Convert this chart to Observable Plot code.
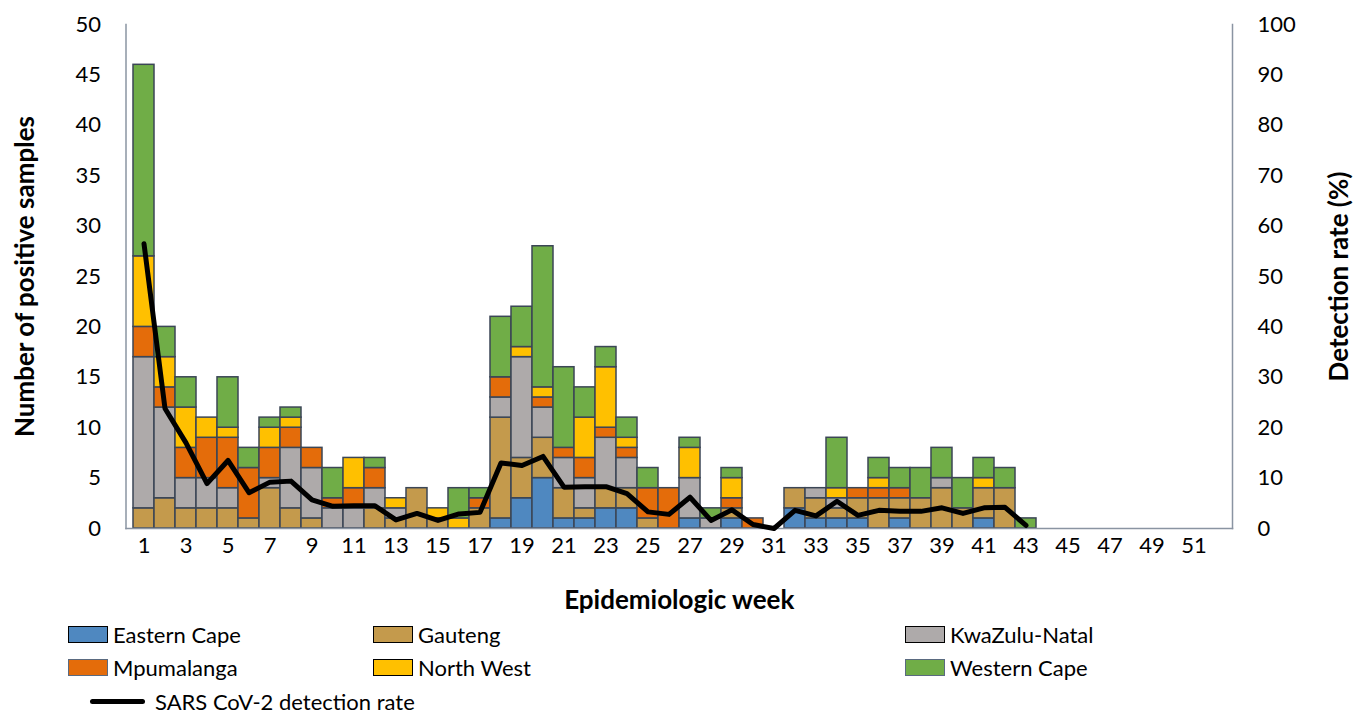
<!DOCTYPE html>
<html>
<head>
<meta charset="utf-8">
<script src="https://cdn.jsdelivr.net/npm/d3@7"></script>
<script src="https://cdn.jsdelivr.net/npm/@observablehq/plot@0.6"></script>
<style>
  body { margin: 0; background: #fff; font-family: Lato, "Open Sans", sans-serif; }
  #chart { position: relative; width: 1369px; }
  .legend { position: relative; width: 1369px; height: 90px; font-size: 22px; color: #000; }
  .item { position: absolute; display: flex; align-items: center; height: 24px; }
  .sw { width: 38px; height: 15px; border: 1.5px solid #000; margin-right: 5px; }
  .ln { width: 55px; height: 5px; background: #000; border-radius: 3px; margin-right: 10px; }
</style>
</head>
<body>
<div id="chart"></div>
<div class="legend" id="legend"></div>
<script>
const weeks = d3.range(1, 53);
const provinces = ["Eastern Cape", "Gauteng", "KwaZulu-Natal", "Mpumalanga", "North West", "Western Cape"];
const colors = ["#4f88c0", "#c49a4c", "#aeaaaa", "#e46c0a", "#ffc000", "#70ad47"];

// counts per week 1..52
const easternCape  = [0,0,0,0,0,0,0,0,0,0, 0,0,0,0,0,0,0,1,3,5, 1,1,2,2,0,0,1,0,1,0, 0,2,1,1,1,0,1,0,0,0, 1,0,0,0,0,0,0,0,0,0, 0,0];
const gauteng      = [2,3,2,2,2,1,4,2,1,0, 0,2,1,4,1,0,2,10,4,4, 3,1,2,2,1,0,0,0,1,0, 0,2,2,1,2,3,2,3,4,2, 3,4,0,0,0,0,0,0,0,0, 0,0];
const kwaZuluNatal = [15,9,3,3,2,0,1,6,5,2, 2,2,1,0,0,0,0,2,10,3, 3,3,5,3,0,0,4,1,0,0, 0,0,1,1,0,0,0,0,1,0, 0,0,0,0,0,0,0,0,0,0, 0,0];
const mpumalanga   = [3,2,3,4,5,5,3,2,2,1, 2,2,0,0,0,0,1,2,0,1, 1,2,1,1,3,4,0,0,1,1, 0,0,0,0,1,1,1,0,0,0, 0,0,0,0,0,0,0,0,0,0, 0,0];
const northWest    = [7,3,4,2,1,0,2,1,0,0, 3,0,1,0,1,1,0,0,1,1, 0,4,6,1,0,0,3,0,2,0, 0,0,0,1,0,1,0,0,0,0, 1,0,0,0,0,0,0,0,0,0, 0,0];
const westernCape  = [19,3,3,0,5,2,1,1,0,3, 0,1,0,0,0,3,1,6,4,14, 8,3,2,2,2,0,1,1,1,0, 0,0,0,5,0,2,2,3,3,3, 2,2,1,0,0,0,0,0,0,0, 0,0];
const series = [easternCape, gauteng, kwaZuluNatal, mpumalanga, northWest, westernCape];

// SARS CoV-2 detection rate (%) weeks 1..43
const rateWeeks = d3.range(1, 44);
const detectionRate = [56.5,23.8,17,8.9,13.5,7.1,9.2,9.4,5.7,4.4, 4.5,4.5,1.7,3.0,1.6,2.9,3.2,13.0,12.5,14.3, 8.2,8.3,8.3,6.9,3.3,2.8,6.2,1.6,3.7,0.8, 0,3.6,2.5,5.4,2.6,3.6,3.4,3.4,4.1,3.0, 4.1,4.2,0.6];

const xTicks = weeks.filter(w => w % 2 === 1);
const leftTicks = d3.range(0, 51, 5);

const bars = [];
weeks.forEach((w, i) => provinces.forEach((p, j) => bars.push({week: w, province: p, count: series[j][i]})));
const rates = rateWeeks.map((w, i) => ({week: w, rate: detectionRate[i]}));

const axisColor = "#8a94a2";
const plot = Plot.plot({
  width: 1369,
  height: 625,
  marginLeft: 125.5,
  marginRight: 137,
  marginTop: 24,
  marginBottom: 97,
  style: {fontFamily: "Lato, 'Open Sans', sans-serif", fontSize: "22px", color: "#000", background: "#fff"},
  x: {type: "band", domain: weeks, padding: 0},
  y: {domain: [0, 50]},
  color: {domain: provinces, range: colors},
  marks: [
    Plot.barY(bars, {x: "week", y: "count", fill: "province", order: provinces, stroke: "#3b4656", strokeWidth: 1.5, inset: 0}),
    Plot.frame({anchor: "left", stroke: axisColor, strokeWidth: 1.5}),
    Plot.frame({anchor: "right", stroke: axisColor, strokeWidth: 1.5}),
    Plot.frame({anchor: "bottom", stroke: axisColor, strokeWidth: 1.5}),
    Plot.line(rates, {x: "week", y: d => d.rate / 2, stroke: "#000", strokeWidth: 5, strokeLinejoin: "round"}),
    Plot.axisX({ticks: xTicks, tickSize: 0, tickPadding: 9, fontSize: 22, label: "Epidemiologic week", labelAnchor: "center", labelOffset: 80, labelArrow: "none"}),
    Plot.axisY({anchor: "left", ticks: leftTicks, tickSize: 0, tickPadding: 25, fontSize: 22, label: "Number of positive samples", labelAnchor: "center", labelOffset: 110, labelArrow: "none"}),
    Plot.axisY({anchor: "right", ticks: leftTicks, tickFormat: d => d * 2, tickSize: 0, tickPadding: 25, fontSize: 22, textAnchor: "start", label: "Detection rate (%)", labelAnchor: "center", labelOffset: 115, labelArrow: "none"})
  ]
});
d3.select(plot).selectAll("g[aria-label='x-axis label'] text, g[aria-label='y-axis label'] text").style("font-weight", "bold").style("font-size", "26px");
document.getElementById("chart").appendChild(plot);

const legendItems = [
  {label: "Eastern Cape", color: colors[0], x: 68, y: -3, stroke: "#000"},
  {label: "Gauteng", color: colors[1], x: 373, y: -3, stroke: "#000"},
  {label: "KwaZulu-Natal", color: colors[2], x: 905, y: -3, stroke: "#000"},
  {label: "Mpumalanga", color: colors[3], x: 68, y: 30, stroke: "#5a6a80"},
  {label: "North West", color: colors[4], x: 373, y: 30, stroke: "#000"},
  {label: "Western Cape", color: colors[5], x: 905, y: 30, stroke: "#5a6a80"}
];
const legend = document.getElementById("legend");
legendItems.forEach(it => {
  const d = document.createElement("div");
  d.className = "item";
  d.style.left = it.x + "px"; d.style.top = it.y + "px";
  d.innerHTML = `<div class="sw" style="background:${it.color};border-color:${it.stroke}"></div><span>${it.label}</span>`;
  legend.appendChild(d);
});
const l = document.createElement("div");
l.className = "item";
l.style.left = "90px"; l.style.top = "64px";
l.innerHTML = `<div class="ln"></div><span>SARS CoV-2 detection rate</span>`;
legend.appendChild(l);
</script>
</body>
</html>
